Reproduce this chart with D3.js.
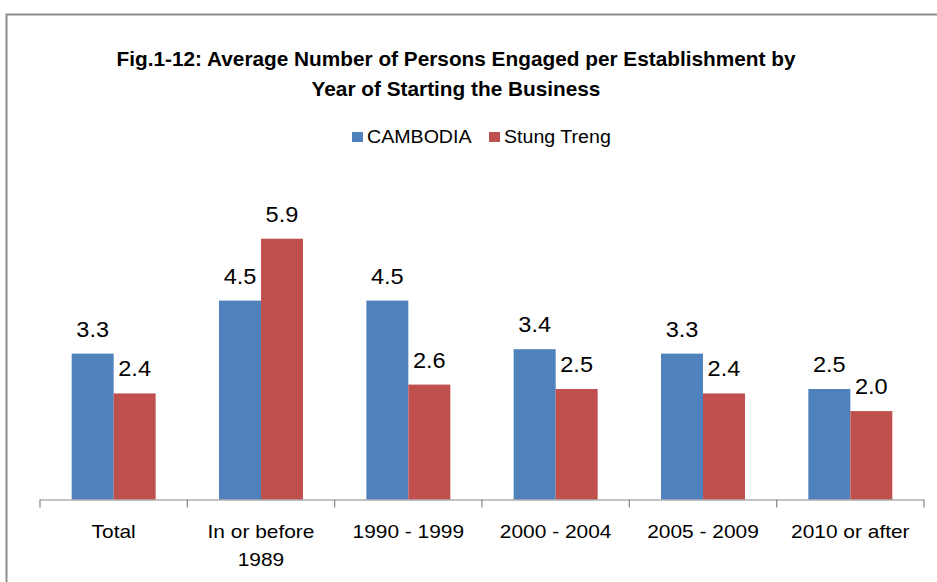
<!DOCTYPE html>
<html>
<head>
<meta charset="utf-8">
<script src="https://cdn.jsdelivr.net/npm/d3@7"></script>
<style>
  html, body { margin: 0; padding: 0; background: #fff; }
  svg { display: block; }
  text { font-family: "Liberation Sans", Arial, sans-serif; fill: #000; }
</style>
</head>
<body>
<svg id="chart" width="937" height="582"></svg>
<script>
const categories = ["Total", "In or before 1989", "1990 - 1999", "2000 - 2004", "2005 - 2009", "2010 or after"];
const categoryLines = [["Total"], ["In or before", "1989"], ["1990 - 1999"], ["2000 - 2004"], ["2005 - 2009"], ["2010 or after"]];
const seriesNames = ["CAMBODIA", "Stung Treng"];
const cambodia = [3.3, 4.5, 4.5, 3.4, 3.3, 2.5];
const stungTreng = [2.4, 5.9, 2.6, 2.5, 2.4, 2.0];
const titleLines = ["Fig.1-12: Average Number of Persons Engaged  per Establishment  by", "Year of Starting the Business"];

const colors = ["#4F81BD", "#C0504D"];
const seriesValues = [cambodia, stungTreng];

const svg = d3.select("#chart");
const W = 937, H = 582;

// stretch helper: widen text horizontally by a factor
function stretch(sel, f) {
  sel.each(function() {
    const w = this.getComputedTextLength();
    d3.select(this).attr("textLength", w * f).attr("lengthAdjust", "spacingAndGlyphs");
  });
}

// outer border (top and left)
svg.append("path")
  .attr("d", `M${W + 2},14.5 L6.5,14.5 L6.5,${H + 2}`)
  .attr("fill", "none")
  .attr("stroke", "#8c8c8c")
  .attr("stroke-width", 2);

// title
const title = svg.append("g");
title.selectAll("text").data(titleLines).join("text")
  .attr("x", 456)
  .attr("y", (d, i) => 66 + i * 30)
  .attr("text-anchor", "middle")
  .attr("font-weight", "bold")
  .attr("font-size", 21)
  .attr("fill", "#000")
  .text(d => d)
  .call(stretch, 0.99);

// scales
const plotLeft = 40, plotRight = 924, baseY = 499.5;
const x0 = d3.scaleBand().domain(categories).range([plotLeft, plotRight]).paddingInner(0).paddingOuter(0);
const bw = x0.bandwidth();
const x1 = d3.scaleBand().domain(seriesNames).range([bw * 0.215, bw * 0.785]).padding(0);
const y = d3.scaleLinear().domain([0, 7]).range([baseY, baseY - 7 * 44.2]);

// bars
const groups = svg.append("g").selectAll("g").data(categories).join("g")
  .attr("transform", d => `translate(${x0(d)},0)`);

groups.selectAll("rect")
  .data((c, i) => seriesNames.map((s, j) => ({ s, v: seriesValues[j][i], j })))
  .join("rect")
  .attr("x", d => x1(d.s))
  .attr("width", x1.bandwidth())
  .attr("y", d => y(d.v))
  .attr("height", d => y(0) - y(d.v))
  .attr("fill", d => colors[d.j]);

// value labels
groups.selectAll("text.val")
  .data((c, i) => seriesNames.map((s, j) => ({ s, v: seriesValues[j][i], j })))
  .join("text")
  .attr("class", "val")
  .attr("x", d => x1(d.s) + x1.bandwidth() / 2)
  .attr("y", d => y(d.v) - 17)
  .attr("text-anchor", "middle")
  .attr("font-size", 22)
  .attr("fill", "#1a1a1a")
  .text(d => d.v.toFixed(1))
  .call(stretch, 1.07);

// x axis
const xAxis = d3.axisBottom(x0).tickSize(0).tickFormat("");
const axG = svg.append("g").attr("transform", `translate(0,${baseY})`).call(xAxis);
axG.select(".domain").attr("stroke", "#868686").attr("stroke-width", 1.2).attr("d", `M${plotLeft},0.5H${plotRight}`);
axG.selectAll(".tick").remove();
// boundary ticks
const bounds = categories.map(c => x0(c)).concat([x0(categories[categories.length - 1]) + bw]);
axG.selectAll("line.bt").data(bounds).join("line")
  .attr("class", "bt")
  .attr("x1", d => d).attr("x2", d => d)
  .attr("y1", 0).attr("y2", 8)
  .attr("stroke", "#868686").attr("stroke-width", 1.2);

// category labels
const catG = svg.append("g").selectAll("text").data(categories).join("text")
  .attr("x", d => x0(d) + bw / 2)
  .attr("y", 538)
  .attr("text-anchor", "middle")
  .attr("font-size", 19)
  .attr("fill", "#1a1a1a");
catG.each(function(d, i) {
  const t = d3.select(this);
  categoryLines[i].forEach((line, k) => {
    t.append("tspan")
      .attr("x", x0(d) + bw / 2)
      .attr("dy", k === 0 ? 0 : 28)
      .text(line);
  });
});
catG.selectAll("tspan").call(stretch, 1.1);

// legend
const legendX = [352, 489];
const leg = svg.append("g").selectAll("g").data(seriesNames).join("g")
  .attr("transform", (d, i) => `translate(${legendX[i]},132)`);
leg.append("rect").attr("width", 11).attr("height", 10).attr("fill", (d, i) => colors[i]);
leg.append("text")
  .attr("x", 15)
  .attr("y", 10.5)
  .attr("font-size", 17.5)
  .attr("fill", "#1a1a1a")
  .text(d => d)
  .call(stretch, 1.12);
</script>
</body>
</html>
